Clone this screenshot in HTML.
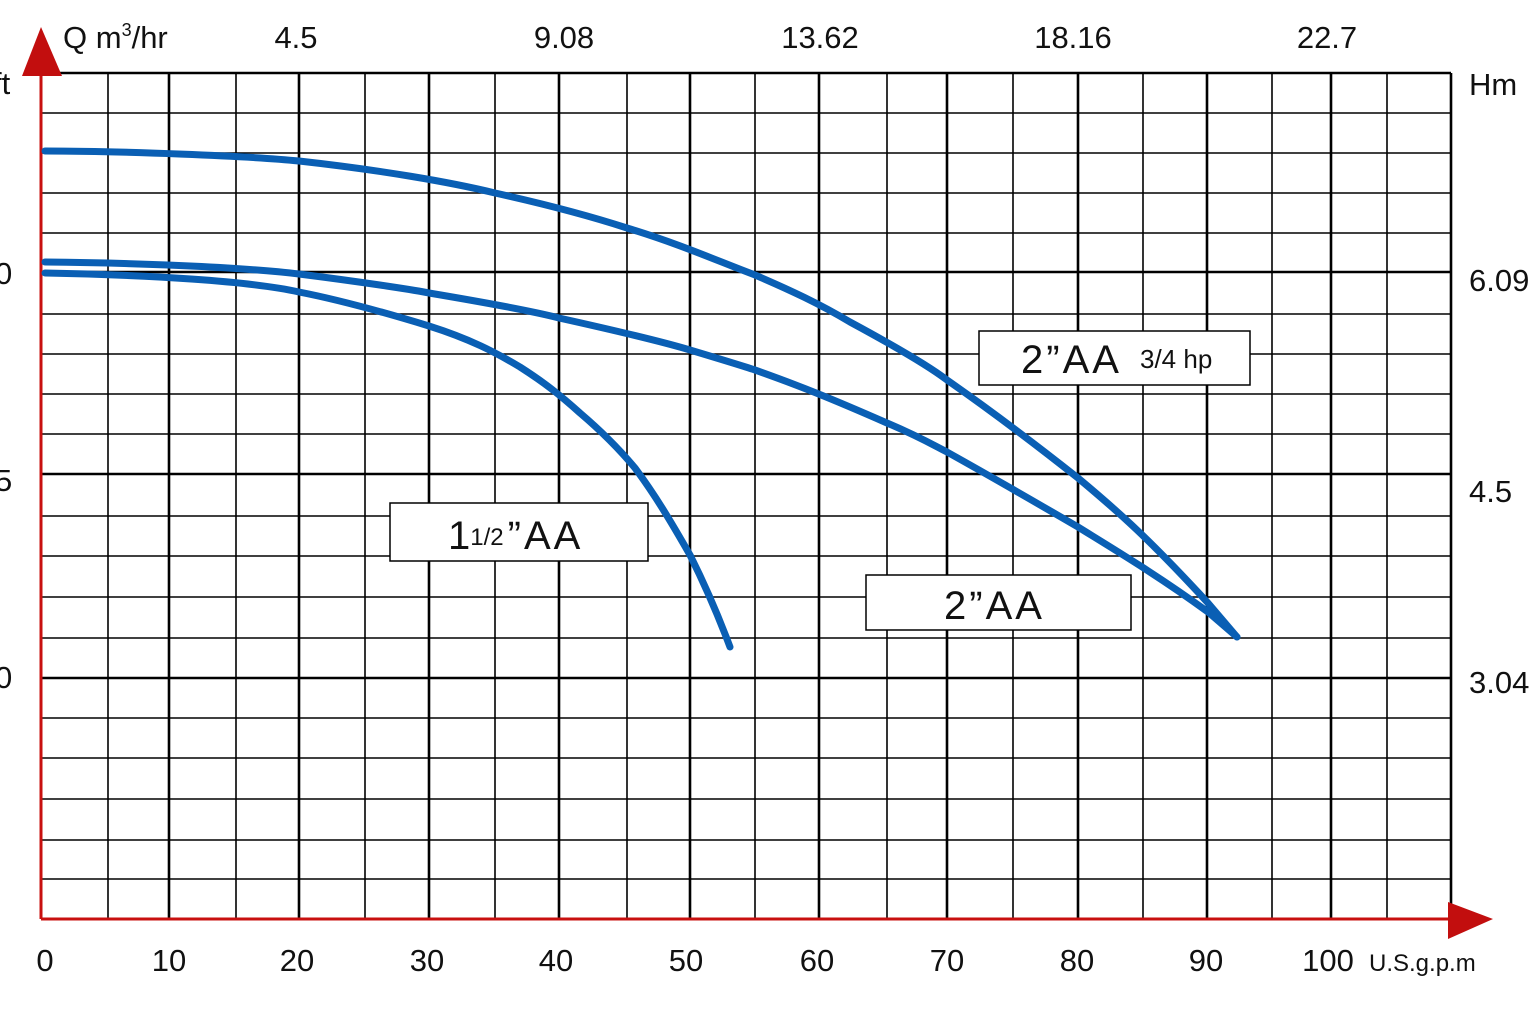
<!DOCTYPE html>
<html><head><meta charset="utf-8"><style>
html,body{margin:0;padding:0;background:#fff;}
svg{display:block;font-family:"Liberation Sans",sans-serif;}
</style></head><body>
<svg width="1536" height="1024" viewBox="0 0 1536 1024" xmlns="http://www.w3.org/2000/svg">
<rect width="1536" height="1024" fill="#fff"/>
<g stroke="#000" stroke-width="1.6">
<line x1="108" y1="73" x2="108" y2="918"/><line x1="236" y1="73" x2="236" y2="918"/>
<line x1="365" y1="73" x2="365" y2="918"/><line x1="495" y1="73" x2="495" y2="918"/>
<line x1="627" y1="73" x2="627" y2="918"/><line x1="755" y1="73" x2="755" y2="918"/>
<line x1="887" y1="73" x2="887" y2="918"/><line x1="1013" y1="73" x2="1013" y2="918"/>
<line x1="1143" y1="73" x2="1143" y2="918"/><line x1="1272" y1="73" x2="1272" y2="918"/>
<line x1="1387" y1="73" x2="1387" y2="918"/>
</g>
<g stroke="#000" stroke-width="2.6">
<line x1="169" y1="73" x2="169" y2="918"/><line x1="299" y1="73" x2="299" y2="918"/>
<line x1="429" y1="73" x2="429" y2="918"/><line x1="559" y1="73" x2="559" y2="918"/>
<line x1="690" y1="73" x2="690" y2="918"/><line x1="819" y1="73" x2="819" y2="918"/>
<line x1="947" y1="73" x2="947" y2="918"/><line x1="1078" y1="73" x2="1078" y2="918"/>
<line x1="1207" y1="73" x2="1207" y2="918"/><line x1="1331" y1="73" x2="1331" y2="918"/>
<line x1="1451" y1="73" x2="1451" y2="918"/>
</g>
<g stroke="#000" stroke-width="1.6">
<line x1="42" y1="113" x2="1451" y2="113"/><line x1="42" y1="153" x2="1451" y2="153"/>
<line x1="42" y1="193" x2="1451" y2="193"/><line x1="42" y1="233" x2="1451" y2="233"/>
<line x1="42" y1="314" x2="1451" y2="314"/><line x1="42" y1="354" x2="1451" y2="354"/>
<line x1="42" y1="394" x2="1451" y2="394"/><line x1="42" y1="434" x2="1451" y2="434"/>
<line x1="42" y1="516" x2="1451" y2="516"/><line x1="42" y1="556" x2="1451" y2="556"/>
<line x1="42" y1="597" x2="1451" y2="597"/><line x1="42" y1="638" x2="1451" y2="638"/>
<line x1="42" y1="718" x2="1451" y2="718"/><line x1="42" y1="758" x2="1451" y2="758"/>
<line x1="42" y1="799" x2="1451" y2="799"/><line x1="42" y1="840" x2="1451" y2="840"/>
<line x1="42" y1="879" x2="1451" y2="879"/>
</g>
<g stroke="#000" stroke-width="2.6">
<line x1="42" y1="73" x2="1451" y2="73"/><line x1="42" y1="272" x2="1451" y2="272"/>
<line x1="42" y1="474" x2="1451" y2="474"/><line x1="42" y1="678" x2="1451" y2="678"/>
</g>
<line x1="41" y1="60" x2="41" y2="919" stroke="#c8100f" stroke-width="3"/>
<line x1="41" y1="919" x2="1460" y2="919" stroke="#c8100f" stroke-width="3"/>
<polygon points="41,27 22,76 62,76" fill="#c20e0e"/>
<polygon points="1448,902 1493,919 1448,939" fill="#c20e0e"/>
<g fill="none" stroke="#0a5fb4" stroke-width="7" stroke-linecap="round" stroke-linejoin="round">
<path d="M45,151 C120,151 250,156 299,161 C380,170 450,182 495,193 C540,203 590,216 627,228 C680,244 720,262 755,275 C790,290 820,304 850,322 C900,349 930,367 947,380 C990,410 1030,440 1078,478 C1120,513 1150,540 1208,603 L1237,637"/>
<path d="M45,262 C150,263 250,268 299,274 C370,283 420,291 429,293 C500,305 540,313 559,318 C640,336 670,344 690,350 C720,359 740,365 755,370 C800,386 830,398 887,423 C920,437 935,446 947,452 C990,476 1030,499 1078,527 C1120,553 1160,577 1208,612 L1237,637"/>
<path d="M45,273 C150,275 250,281 299,292 C340,300 380,311 429,326 C470,339 495,352 520,367 C545,383 560,395 580,413 C600,430 620,450 635,468 C655,495 670,520 690,555 C705,585 718,615 730,647"/>
</g>
<g fill="#fff" stroke="#000" stroke-width="1.5">
<rect x="390" y="503" width="258" height="58"/>
<rect x="979" y="331" width="271" height="54"/>
<rect x="866" y="575" width="265" height="55"/>
</g>
<g fill="#111" font-size="40">
<text x="448" y="549">1<tspan font-size="24" dy="-4">1/2</tspan><tspan dy="4" dx="4" letter-spacing="3">”AA</tspan></text>
<text x="1021" y="373" letter-spacing="3">2”AA</text>
<text x="1140" y="368" font-size="26">3/4 hp</text>
<text x="944" y="619" letter-spacing="3">2”AA</text>
</g>
<g fill="#111" font-size="31">
<text x="63" y="48">Q m<tspan font-size="18" dy="-12">3</tspan><tspan dy="12">/hr</tspan></text>
<g text-anchor="middle">
<text x="296" y="48">4.5</text><text x="564" y="48">9.08</text>
<text x="820" y="48">13.62</text><text x="1073" y="48">18.16</text><text x="1327" y="48">22.7</text>
<text x="45" y="971">0</text><text x="169" y="971">10</text><text x="297" y="971">20</text>
<text x="427" y="971">30</text><text x="556" y="971">40</text><text x="686" y="971">50</text>
<text x="817" y="971">60</text><text x="947" y="971">70</text><text x="1077" y="971">80</text>
<text x="1206" y="971">90</text><text x="1328" y="971">100</text>
</g>
<text x="-7" y="94">ft</text>
<text x="-5" y="284">0</text><text x="-5" y="491">5</text><text x="-5" y="688">0</text>
<text x="1469" y="95">Hm</text><text x="1469" y="291">6.09</text>
<text x="1469" y="502">4.5</text><text x="1469" y="693">3.04</text>
<text x="1369" y="971" font-size="24">U.S.g.p.m</text>
</g>
</svg>
</body></html>
